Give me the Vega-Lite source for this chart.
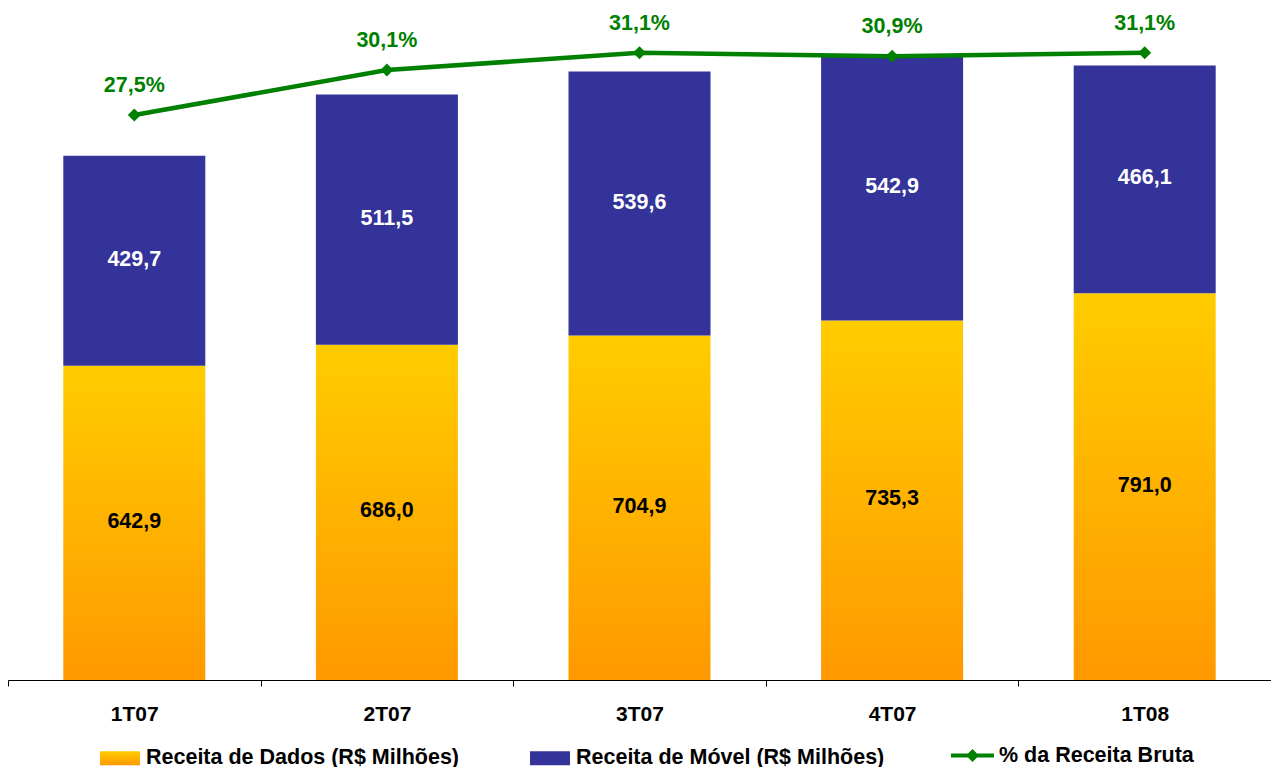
{
  "$schema": "https://vega.github.io/schema/vega-lite/v6.json",
  "width": 1263,
  "height": 680,
  "autosize": {"type": "none"},
  "padding": {"left": 8, "top": 0, "right": 0, "bottom": 87},
  "background": "white",
  "config": {
    "view": {"stroke": null},
    "font": "Liberation Sans",
    "locale": {"number": {"decimal": ",", "thousands": ".", "grouping": [3], "currency": ["R$ ", ""]}}
  },
  "datasets": {
    "receitas": [
      {"trimestre": "1T07", "serie": "Receita de Dados (R$ Milhões)", "valor": 642.9},
      {"trimestre": "1T07", "serie": "Receita de Móvel (R$ Milhões)", "valor": 429.7},
      {"trimestre": "2T07", "serie": "Receita de Dados (R$ Milhões)", "valor": 686.0},
      {"trimestre": "2T07", "serie": "Receita de Móvel (R$ Milhões)", "valor": 511.5},
      {"trimestre": "3T07", "serie": "Receita de Dados (R$ Milhões)", "valor": 704.9},
      {"trimestre": "3T07", "serie": "Receita de Móvel (R$ Milhões)", "valor": 539.6},
      {"trimestre": "4T07", "serie": "Receita de Dados (R$ Milhões)", "valor": 735.3},
      {"trimestre": "4T07", "serie": "Receita de Móvel (R$ Milhões)", "valor": 542.9},
      {"trimestre": "1T08", "serie": "Receita de Dados (R$ Milhões)", "valor": 791.0},
      {"trimestre": "1T08", "serie": "Receita de Móvel (R$ Milhões)", "valor": 466.1}
    ],
    "percentual": [
      {"trimestre": "1T07", "serie": "% da Receita Bruta", "pct": 0.275},
      {"trimestre": "2T07", "serie": "% da Receita Bruta", "pct": 0.301},
      {"trimestre": "3T07", "serie": "% da Receita Bruta", "pct": 0.311},
      {"trimestre": "4T07", "serie": "% da Receita Bruta", "pct": 0.309},
      {"trimestre": "1T08", "serie": "% da Receita Bruta", "pct": 0.311}
    ]
  },
  "layer": [
    {
      "data": {"name": "receitas"},
      "layer": [
        {
          "mark": {"type": "bar", "strokeWidth": 0},
          "encoding": {
            "x": {
              "field": "trimestre", "type": "nominal",
              "sort": ["1T07", "2T07", "3T07", "4T07", "1T08"],
              "scale": {"domain": ["1T07", "2T07", "3T07", "4T07", "1T08"], "paddingInner": 0.4378, "paddingOuter": 0.2189},
              "axis": {
                "title": null, "labelAngle": 0, "labelFont": "Liberation Sans", "labelFontSize": 21,
                "labelFontWeight": "bold", "labelColor": "black", "labelPadding": 17,
                "tickOffset": -126.3, "labelOffset": 126.3, "tickSize": 6, "tickColor": "black", "ticks": true,
                "domainColor": "black", "domainWidth": 1, "grid": false
              }
            },
            "y": {
              "field": "valor", "type": "quantitative", "stack": "zero",
              "scale": {"domain": [0, 1391], "nice": false, "zero": true},
              "axis": null
            },
            "fill": {
              "field": "serie", "type": "nominal",
              "scale": {
                "domain": ["Receita de Dados (R$ Milhões)", "Receita de Móvel (R$ Milhões)"],
                "range": [
                  {"expr": "{gradient: 'linear', x1: 0, y1: 0, x2: 0, y2: 1, stops: [{offset: 0, color: '#FFCC00'}, {offset: 1, color: '#FF9900'}]}"},
                  "#333399"
                ]
              },
              "legend": {
                "title": null, "orient": "none", "direction": "horizontal", "columns": 2,
                "legendX": 92, "legendY": 738, "padding": 0, "columnPadding": 70,
                "symbolType": "M-1,-0.35L1,-0.35L1,0.35L-1,0.35Z", "symbolSize": 1600,
                "symbolStrokeWidth": 0, "labelOffset": 6, "labelLimit": 600,
                "labelFont": "Liberation Sans", "labelFontSize": 21.5, "labelFontWeight": "bold", "labelColor": "black"
              }
            },
            "order": {"field": "serie", "type": "ordinal", "sort": "ascending"}
          }
        },
        {
          "transform": [
            {"stack": "valor", "groupby": ["trimestre"], "sort": [{"field": "serie", "order": "ascending"}], "as": ["v0", "v1"]},
            {"fold": ["v0", "v1"], "as": ["ponta", "posicao"]},
            {"aggregate": [{"op": "mean", "field": "posicao", "as": "meio"}, {"op": "max", "field": "valor", "as": "valor"}], "groupby": ["trimestre", "serie"]}
          ],
          "mark": {"type": "text", "font": "Liberation Sans", "fontSize": 21.5, "fontWeight": "bold", "baseline": "middle", "align": "center", "dy": -1},
          "encoding": {
            "x": {"field": "trimestre", "type": "nominal", "sort": ["1T07", "2T07", "3T07", "4T07", "1T08"]},
            "y": {"field": "meio", "type": "quantitative"},
            "text": {"field": "valor", "type": "quantitative", "format": ".1f"},
            "color": {
              "condition": {"test": "datum.serie === 'Receita de Móvel (R$ Milhões)'", "value": "white"},
              "value": "black"
            }
          }
        }
      ]
    },
    {
      "data": {"name": "percentual"},
      "layer": [
        {
          "mark": {"type": "line", "strokeWidth": 4.5, "strokeCap": "round"},
          "encoding": {
            "x": {"field": "trimestre", "type": "nominal", "sort": ["1T07", "2T07", "3T07", "4T07", "1T08"]},
            "y": {
              "field": "pct", "type": "quantitative",
              "scale": {"domain": [-0.0516, 0.3415], "nice": false, "zero": false},
              "axis": null
            },
            "stroke": {
              "field": "serie", "type": "nominal",
              "scale": {"domain": ["% da Receita Bruta"], "range": ["#008000"]},
              "legend": {
                "title": null, "orient": "none", "legendX": 943, "legendY": 734, "padding": 0,
                "symbolType": "M-1,-0.093L1,-0.093L1,0.093L-1,0.093Z M0,-0.3L0.3,0L0,0.3L-0.3,0Z",
                "symbolSize": 1849, "symbolFillColor": "#008000", "symbolStrokeWidth": 0,
                "labelOffset": 5, "labelLimit": 600,
                "labelFont": "Liberation Sans", "labelFontSize": 21.5, "labelFontWeight": "bold", "labelColor": "black",
                "encode": {"symbols": {"update": {"fill": {"value": "#008000"}, "strokeWidth": {"value": 0}}}}
              }
            }
          }
        },
        {
          "mark": {"type": "point", "shape": "diamond", "size": 169, "filled": true, "color": "#008000", "strokeWidth": 0, "opacity": 1},
          "encoding": {
            "x": {"field": "trimestre", "type": "nominal", "sort": ["1T07", "2T07", "3T07", "4T07", "1T08"]},
            "y": {"field": "pct", "type": "quantitative"}
          }
        },
        {
          "mark": {"type": "text", "font": "Liberation Sans", "fontSize": 21.5, "fontWeight": "bold", "baseline": "middle", "align": "center", "dy": -29, "color": "#008000"},
          "encoding": {
            "x": {"field": "trimestre", "type": "nominal", "sort": ["1T07", "2T07", "3T07", "4T07", "1T08"]},
            "y": {"field": "pct", "type": "quantitative"},
            "text": {"field": "pct", "type": "quantitative", "format": ".1%"}
          }
        }
      ]
    }
  ],
  "resolve": {"scale": {"y": "independent"}}
}
